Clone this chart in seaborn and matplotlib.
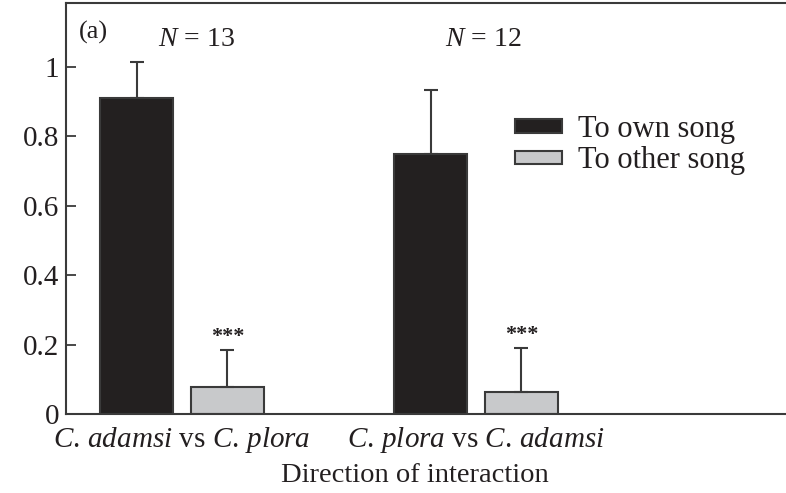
import matplotlib
matplotlib.use("Agg")
import matplotlib.pyplot as plt
import seaborn as sns
import pandas as pd
import numpy as np

# Response data
directions = ["C. adamsi vs C. plora", "C. plora vs C. adamsi"]
tick_labels = [r"$\mathit{C{.}\,adamsi}$ vs $\mathit{C{.}\,plora}$",
               r"$\mathit{C{.}\,plora}$ vs $\mathit{C{.}\,adamsi}$"]
stimuli = ["To own song", "To other song"]
own_song = [0.91, 0.75]
other_song = [0.077, 0.062]
own_err = [0.105, 0.183]
other_err = [0.107, 0.127]
sample_sizes = [13, 12]
significance = ["***", "***"]

sns.set_theme(style="white")
plt.rcParams["font.family"] = ["Liberation Serif", "DejaVu Serif"]
plt.rcParams["mathtext.fontset"] = "custom"
plt.rcParams["mathtext.rm"] = "Liberation Serif"
plt.rcParams["mathtext.it"] = "Liberation Serif:italic"

ink = "#231f20"
line_col = "#3a3a3a"
colors = {"To own song": "#231f20", "To other song": "#c8c9cb"}

df = pd.DataFrame({
    "direction": directions * 2,
    "stimulus": [stimuli[0]] * 2 + [stimuli[1]] * 2,
    "value": own_song + other_song,
    "err": own_err + other_err,
})

W, H = 786, 493
ax_left, ax_right, ax_top, ax_bottom = 66, 800, 3, 414
fig = plt.figure(figsize=(W / 100, H / 100), dpi=100)
ax = fig.add_axes([ax_left / W, (H - ax_bottom) / H,
                   (ax_right - ax_left) / W, (ax_bottom - ax_top) / H])

sns.barplot(data=df, x="direction", y="value", hue="stimulus",
            hue_order=stimuli, order=directions, palette=colors,
            width=0.616, gap=0.19, errorbar=None,
            edgecolor=line_col, linewidth=1.5, ax=ax, legend=True)

# One-sided error bars from the bar tops
for container, errs in zip(ax.containers, [own_err, other_err]):
    xs = [p.get_x() + p.get_width() / 2 for p in container.patches]
    hs = [p.get_height() for p in container.patches]
    ax.errorbar(xs, hs, yerr=[np.zeros(len(errs)), errs], fmt="none",
                ecolor=line_col, elinewidth=1.5, capsize=4.7,
                capthick=1.5, zorder=1)

# Significance stars above the other-song bars
for x, h, e, s in zip([p.get_x() + p.get_width() / 2 for p in ax.containers[1].patches],
                      other_song, other_err, significance):
    ax.text(x, h + e + 0.01, s, ha="center", va="bottom", fontsize=16,
            color=ink, fontweight="bold")

# Sample sizes above each group
for x, n in zip([0.048, 1.024], sample_sizes):
    ax.text(x, 1.08, rf"$\mathit{{N}}$ = {n}", ha="center",
            va="center", fontsize=20, color=ink)

ax.text(-0.352, 1.10, "(a)", ha="left", va="center", fontsize=19, color=ink)

# x limits: group spacing 294 px, first group centred at x = 182 px
px_per_unit = 294
ax.set_xlim(-(182 - ax_left) / px_per_unit, (ax_right - 182) / px_per_unit)
ax.set_ylim(0, 1.184)
ax.set_yticks([0, 0.2, 0.4, 0.6, 0.8, 1])
ax.set_yticklabels(["0", "0.2", "0.4", "0.6", "0.8", "1"])
ax.set_xticks([0, 1])
ax.set_xticklabels(tick_labels)
ax.tick_params(axis="y", direction="in", length=7, width=1.3, color=line_col,
               labelsize=21, labelcolor=ink, pad=5, left=True)
ax.tick_params(axis="x", length=0, labelsize=21, labelcolor=ink, pad=8)
ax.set_ylabel("")
ax.set_xlabel("Direction of interaction", fontsize=20.5, color=ink)
ax.xaxis.set_label_coords((415 - ax_left) / (ax_right - ax_left),
                          -(475 - ax_bottom) / (ax_bottom - ax_top))
ax.xaxis.label.set_va("center")

for side in ["left", "top", "bottom"]:
    ax.spines[side].set_color(line_col)
    ax.spines[side].set_linewidth(1.5)
ax.spines["right"].set_visible(False)

leg = ax.legend(loc="upper left",
                bbox_to_anchor=((515 - ax_left) / (ax_right - ax_left),
                                (ax_bottom - 115) / (ax_bottom - ax_top)),
                frameon=False, fontsize=22, handlelength=1.55, handleheight=0.32,
                handletextpad=0.5, labelspacing=0.08, borderpad=0,
                borderaxespad=0)
for t in leg.get_texts():
    t.set_color(ink)

fig.savefig("out.png", dpi=100)
